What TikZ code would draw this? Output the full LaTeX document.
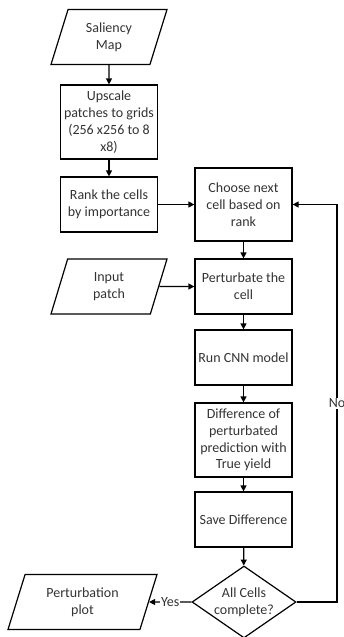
\documentclass[tikz,border=0pt]{standalone}
\usepackage{fontspec}
\setmainfont{Carlito}
\usetikzlibrary{shapes.geometric,arrows.meta}
\begin{document}
\begin{tikzpicture}[x=1pt,y=-1pt,
  every node/.style={font=\fontsize{14pt}{16.8pt}\selectfont, text=black!80},
  box/.style={draw,line width=1.2pt,minimum width=97pt,align=center,inner sep=1pt},
  io/.style={draw,line width=1.2pt,trapezium,trapezium left angle=61,trapezium right angle=119,trapezium stretches body,align=center,minimum height=55pt,inner sep=1pt},
  arr/.style={line width=1.2pt,-{Triangle[length=6pt,width=6pt]}},
  lbl/.style={fill=white,inner sep=1pt}]
\useasboundingbox (0,0) rectangle (344,637);

\node[io, minimum width=116pt] (sal) at (109,37) {Saliency\\Map};
\node[box, minimum height=74pt] (up) at (109,122) {Upscale\\patches to grids\\(256 x256 to 8\\x8)};
\node[box, minimum height=55pt] (rank) at (109,204.5) {Rank the cells\\by importance};
\node[box, minimum height=73pt] (choose) at (243.5,204.5) {Choose next\\cell based on\\rank};
\node[io, minimum width=116pt] (inp) at (109,286.5) {Input\\patch};
\node[box, minimum height=55pt] (pert) at (243.5,286.5) {Perturbate the\\cell};
\node[box, minimum height=55pt] (cnn) at (243.5,357.5) {Run CNN model};
\node[box, minimum height=74pt] (diff) at (243.5,440) {Difference of\\perturbated\\prediction with\\True yield};
\node[box, minimum height=55pt] (save) at (243.5,519.5) {Save Difference};
\node[draw, line width=1.2pt, diamond, aspect=1.44, inner sep=0pt, minimum width=104pt, minimum height=72pt, align=center] (dia) at (244,602) {All Cells\\complete?};
\node[io, minimum width=149pt] (plot) at (82.5,602) {Perturbation\\plot};
\coordinate (loop) at (337,204.5);

\path[draw,arr] (sal) -- (up);
\path[draw,arr] (up) -- (rank);
\path[draw,arr] (rank) -- (choose);
\path[draw,arr] (choose) -- (pert);
\path[draw,arr] (inp) -- (pert);
\path[draw,arr] (pert) -- (cnn);
\path[draw,arr] (cnn) -- (diff);
\path[draw,arr] (diff) -- (save);
\path[draw,arr] (save) -- (dia);
\path[draw,arr] (dia) -- node[lbl] {Yes} (plot);
\path[draw,arr] (dia.east) -| node[lbl, pos=0.75] {No} (loop) -- (choose.east);
\end{tikzpicture}
\end{document}
